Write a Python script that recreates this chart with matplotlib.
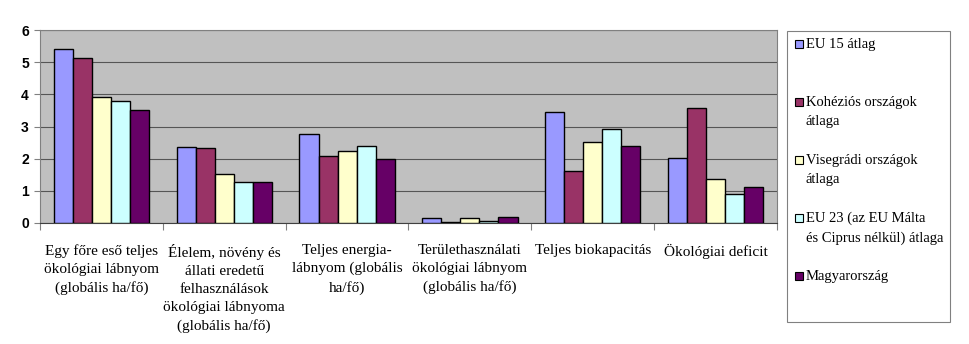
import numpy as np
import matplotlib.pyplot as plt
from matplotlib.patches import Rectangle

categories = [
    "Egy főre eső teljes\nökológiai lábnyom\n(globális ha/fő)",
    "Élelem, növény és\nállati eredetű\nfelhasználások\nökológiai lábnyoma\n(globális ha/fő)",
    "Teljes energia-\nlábnyom (globális\nha/fő)",
    "Területhasználati\nökológiai lábnyom\n(globális ha/fő)",
    "Teljes biokapacitás",
    "Ökológiai deficit",
]
series_names = [
    "EU 15 átlag",
    "Kohéziós országok\nátlaga",
    "Visegrádi országok\nátlaga",
    "EU 23 (az EU Málta\nés Ciprus nélkül) átlaga",
    "Magyarország",
]
eu15 = [5.42, 2.35, 2.77, 0.145, 3.46, 2.02]
kohezios = [5.12, 2.32, 2.09, 0.04, 1.63, 3.57]
visegradi = [3.92, 1.52, 2.25, 0.145, 2.52, 1.38]
eu23 = [3.80, 1.28, 2.40, 0.06, 2.91, 0.91]
magyar = [3.50, 1.28, 1.99, 0.18, 2.40, 1.13]
colors = ["#9999FF", "#993366", "#FFFFCC", "#CCFFFF", "#660066"]

values = [eu15, kohezios, visegradi, eu23, magyar]

serif = "Liberation Serif"

fig = plt.figure(figsize=(9.69, 3.44), dpi=100)
ax = fig.add_axes([40 / 969, 1 - 223 / 344, 737 / 969, 193 / 344])
ax.set_facecolor("#C0C0C0")

x = np.arange(len(categories))
w = 0.155
for i, (vals, c) in enumerate(zip(values, colors)):
    ax.bar(x + (i - 2) * w, vals, w, color=c, edgecolor="black", linewidth=1, zorder=3)

ax.set_xlim(-0.5, len(categories) - 0.5)
ax.set_ylim(0, 6)
ax.set_yticks(range(7))
ax.set_yticklabels([str(v) for v in range(7)], fontfamily="Liberation Sans",
                   fontweight="bold", fontsize=10)
ax.yaxis.grid(True, color="#555555", linewidth=0.8, zorder=1)
ax.set_axisbelow(True)

ax.set_xticks(np.arange(len(categories) + 1) - 0.5)
ax.set_xticklabels([])
ax.set_xticks(x, minor=True)
ax.set_xticklabels(categories, minor=True, fontfamily=serif, fontsize=11, va="top")
for t in ax.get_xticklabels(minor=True):
    t.set_linespacing(1.5)
ax.tick_params(axis="x", which="minor", length=0, pad=15)
ax.tick_params(axis="x", which="major", length=5, color="#808080")
ax.tick_params(axis="y", length=4, color="#808080", pad=4)

for s in ["top", "right"]:
    ax.spines[s].set_color("#808080")
ax.spines["left"].set_color("#808080")
ax.spines["bottom"].set_color("#404040")

# legend drawn by hand to keep the Excel-like layout
px = lambda v: v / 969
py = lambda v: 1 - v / 344
fig.patches.append(Rectangle((px(787), py(322)), px(163), 291 / 344, transform=fig.transFigure,
                             fill=False, edgecolor="#808080", linewidth=0.8))
for i, (name, c) in enumerate(zip(series_names, colors)):
    yc = 44 + i * 58
    fig.patches.append(Rectangle((px(795), py(yc + 4)), px(8), 8 / 344, transform=fig.transFigure,
                                 facecolor=c, edgecolor="black", linewidth=0.8))
    fig.text(px(806), py(yc - 6), name, fontfamily=serif, fontsize=10.5,
             va="top", ha="left", linespacing=1.6)

fig.savefig("out.png", dpi=100)
